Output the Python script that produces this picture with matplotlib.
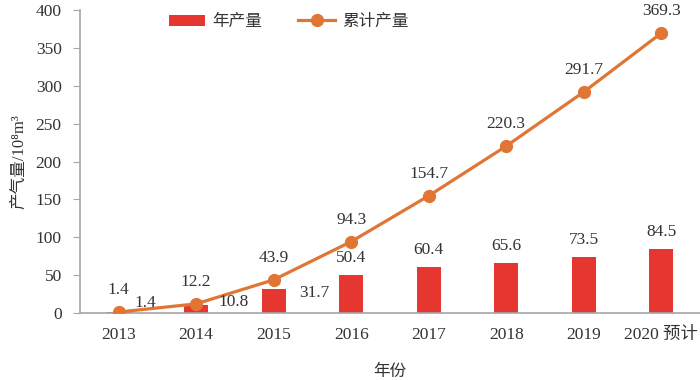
import numpy as np
import matplotlib
matplotlib.use('Agg')
import matplotlib.pyplot as plt

# data
years = ['2013', '2014', '2015', '2016', '2017', '2018', '2019', '2020 预计']
annual = [1.4, 10.8, 31.7, 50.4, 60.4, 65.6, 73.5, 84.5]
cumulative = [1.4, 12.2, 43.9, 94.3, 154.7, 220.3, 291.7, 369.3]

fonts = ['Liberation Serif', 'Noto Sans CJK SC', 'DejaVu Sans']
plt.rcParams['font.family'] = fonts
plt.rcParams['axes.unicode_minus'] = False

bar_color = '#E5372F'
line_color = '#E07534'
text_color = '#333333'
axis_gray = '#A6A6A6'

fig = plt.figure(figsize=(7, 3.8), dpi=100)
ax = fig.add_axes([0.114, 0.176, 0.886, 0.798])

x = np.arange(len(years))
bars = ax.bar(x, annual, width=0.31, color=bar_color, label='年产量', zorder=2)
line, = ax.plot(x, cumulative, color=line_color, lw=2.3, marker='o', ms=8.5,
                label='累计产量', zorder=3)

# cumulative labels above the markers
for xi, v in zip(x, cumulative):
    ax.annotate(f'{v:.1f}', (xi, v), xytext=(0, 22), textcoords='offset pixels',
                ha='center', va='center', fontsize=12.5, color=text_color)

# annual labels: first three sit to the right, the rest above the bars
bar_offsets = [(27, 9), (37, 3), (41, -4)]
for i, (xi, v) in enumerate(zip(x, annual)):
    if i < len(bar_offsets):
        dx, dy = bar_offsets[i]
    else:
        dx, dy = 0, 17
    ax.annotate(f'{v:.1f}', (xi, v), xytext=(dx, dy), textcoords='offset pixels',
                ha='center', va='center', fontsize=12.5, color=text_color)

ax.set_xlim(-0.5, len(years) - 0.5)
ax.set_ylim(0, 400)
ax.set_yticks(np.arange(0, 401, 50))
ax.set_xticks(x)
ax.set_xticklabels(years)

ax.spines['top'].set_visible(False)
ax.spines['right'].set_visible(False)
for s in ('left', 'bottom'):
    ax.spines[s].set_color(axis_gray)
    ax.spines[s].set_linewidth(1.2)
ax.tick_params(axis='y', length=5, color=axis_gray, labelsize=12.5,
               labelcolor=text_color, pad=8)
ax.tick_params(axis='x', length=0, labelsize=12.5, labelcolor=text_color, pad=10)

ax.set_xlabel('年份', fontsize=12, color=text_color, labelpad=15)
ax.set_ylabel('产气量/10⁸m³', fontsize=12, color=text_color, labelpad=6)

ax.legend([bars, line], ['年产量', '累计产量'], loc='upper left',
          bbox_to_anchor=(0.119, 1.035), ncol=2, frameon=False,
          fontsize=12, handlelength=2.2, columnspacing=2.2, handletextpad=0.4,
          labelcolor=text_color)

fig.savefig('out.png', dpi=100)
